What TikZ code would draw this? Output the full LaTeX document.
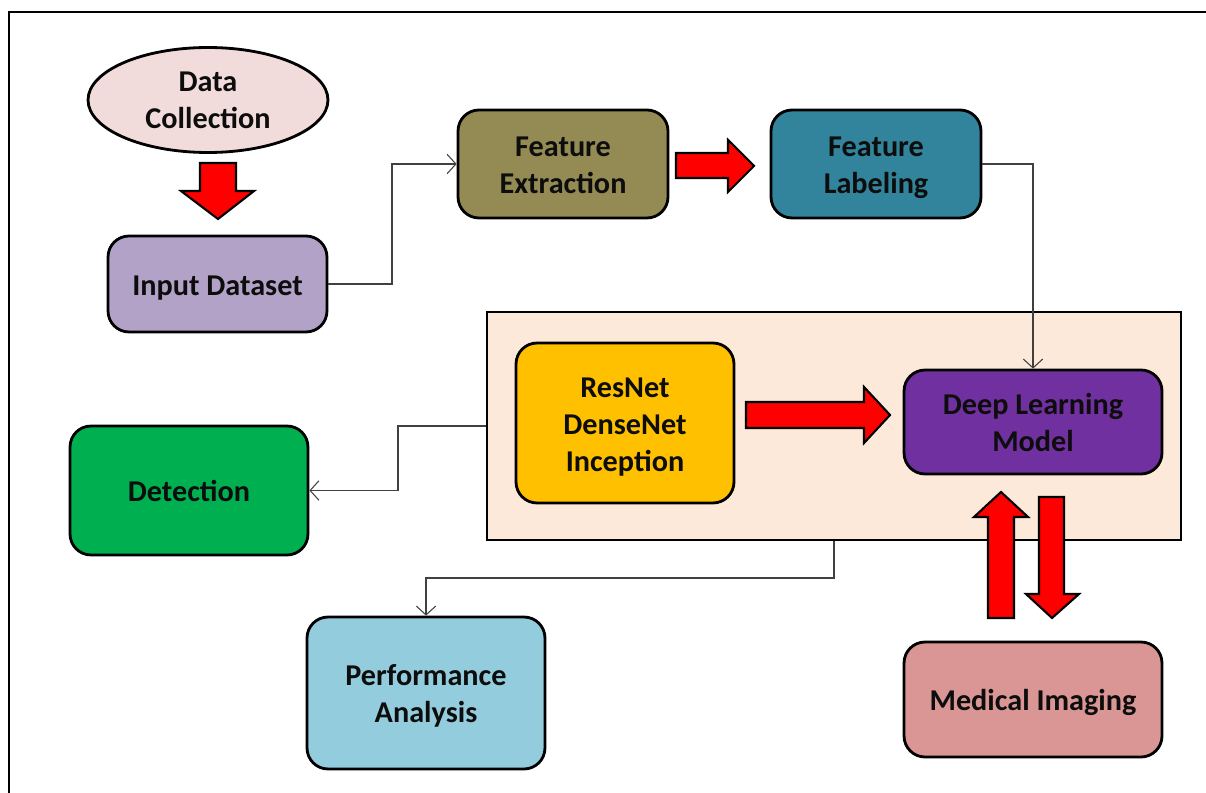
\documentclass[tikz,border=0pt]{standalone}
\usepackage{fontspec}
\setmainfont{Carlito}
\usetikzlibrary{arrows.meta,shapes.geometric}
\definecolor{cPink}{HTML}{F2DCDB}
\definecolor{cLav}{HTML}{B3A2C7}
\definecolor{cOlive}{HTML}{948A54}
\definecolor{cTeal}{HTML}{31849B}
\definecolor{cPeach}{HTML}{FDE9D9}
\definecolor{cGold}{HTML}{FFC000}
\definecolor{cPurple}{HTML}{7030A0}
\definecolor{cGreen}{HTML}{00B050}
\definecolor{cSky}{HTML}{93CDDD}
\definecolor{cRose}{HTML}{D99694}
\definecolor{cLine}{HTML}{404040}
\definecolor{cText}{HTML}{0D0D0D}
\newcommand{\ls}{\rule[-4pt]{0pt}{21pt}}
\tikzset{
  txt/.style={font=\bfseries\fontsize{17.2}{21}\selectfont, text=cText},
  box/.style={draw=black, line width=1.6pt, rounded corners=0.42cm, align=center,
    txt, inner sep=0pt},
  conn/.style={draw=cLine, line width=0.6pt, -{Straight Barb[length=5pt,width=11pt]}},
  blockarrow/.style={fill=red, draw=black, line width=1.2pt, line join=miter},
}
\begin{document}
\begin{tikzpicture}[x=0.02cm,y=-0.02cm]
\useasboundingbox (0,0) rectangle (1206,793);
\draw[line width=1.1pt] (9,815) -- (9,12) -- (1230,12);

\node[ellipse, draw=black, line width=1.6pt, fill=cPink, minimum width=4.8cm, minimum height=2.1cm,
  align=center, txt, inner sep=0pt] (dc) at (208,100) {Data\\Collection};
\node[box, fill=cLav, minimum width=4.38cm, minimum height=1.92cm] (inp) at (217.5,284) {Input Dataset\ls};
\node[box, fill=cOlive, minimum width=4.2cm, minimum height=2.16cm] (fe) at (563,164) {Feature\ls\\Extraction\ls};
\node[box, fill=cTeal, minimum width=4.2cm, minimum height=2.16cm] (fl) at (876,164) {Feature\ls\\Labeling\ls};
\node[draw=black, line width=1.6pt, fill=cPeach, minimum width=13.88cm, minimum height=4.56cm, inner sep=0pt] (big) at (834,426) {};
\node[box, fill=cGold, minimum width=4.36cm, minimum height=3.2cm] (res) at (625,423) {ResNet\ls\\DenseNet\ls\\Inception\ls};
\node[box, fill=cPurple, minimum width=5.16cm, minimum height=2.08cm] (dl) at (1033,422) {Deep Learning\ls\\Model\ls};
\node[box, fill=cGreen, minimum width=4.76cm, minimum height=2.58cm] (det) at (189,490.5) {Detection\ls};
\node[box, fill=cSky, minimum width=4.76cm, minimum height=3.04cm] (perf) at (426,693) {Performance\ls\\Analysis\ls};
\node[box, fill=cRose, minimum width=5.16cm, minimum height=2.3cm] (med) at (1033,699.5) {Medical Imaging\ls};

% thin connectors
\draw[conn] (inp.east) -- (392,284) |- (fe.west);
\draw[conn] (fl.east) -| (dl.north);
\coordinate (bend1) at (398,426);
\draw[conn] (big.west) -- (bend1) |- (det.east);
\coordinate (bend2) at (834,578);
\draw[conn] (big.south) -- (bend2) -| (perf.north);

% block arrows
\draw[blockarrow] (200,163) -- (236,163) -- (236,191) -- (254,191) -- (218,219) -- (181,191) -- (200,191) -- cycle;
\draw[blockarrow] (676,153) -- (728,153) -- (728,140) -- (754,166) -- (728,192) -- (728,178) -- (676,178) -- cycle;
\draw[blockarrow] (746,402) -- (864,402) -- (864,387) -- (890,415) -- (864,443) -- (864,428) -- (746,428) -- cycle;
\draw[blockarrow] (988,618) -- (988,517) -- (974,517) -- (1001,492) -- (1028,517) -- (1014,517) -- (1014,618) -- cycle;
\draw[blockarrow] (1039,497) -- (1064,497) -- (1064,594) -- (1079,594) -- (1052,618) -- (1026,594) -- (1039,594) -- cycle;
\end{tikzpicture}
\end{document}
